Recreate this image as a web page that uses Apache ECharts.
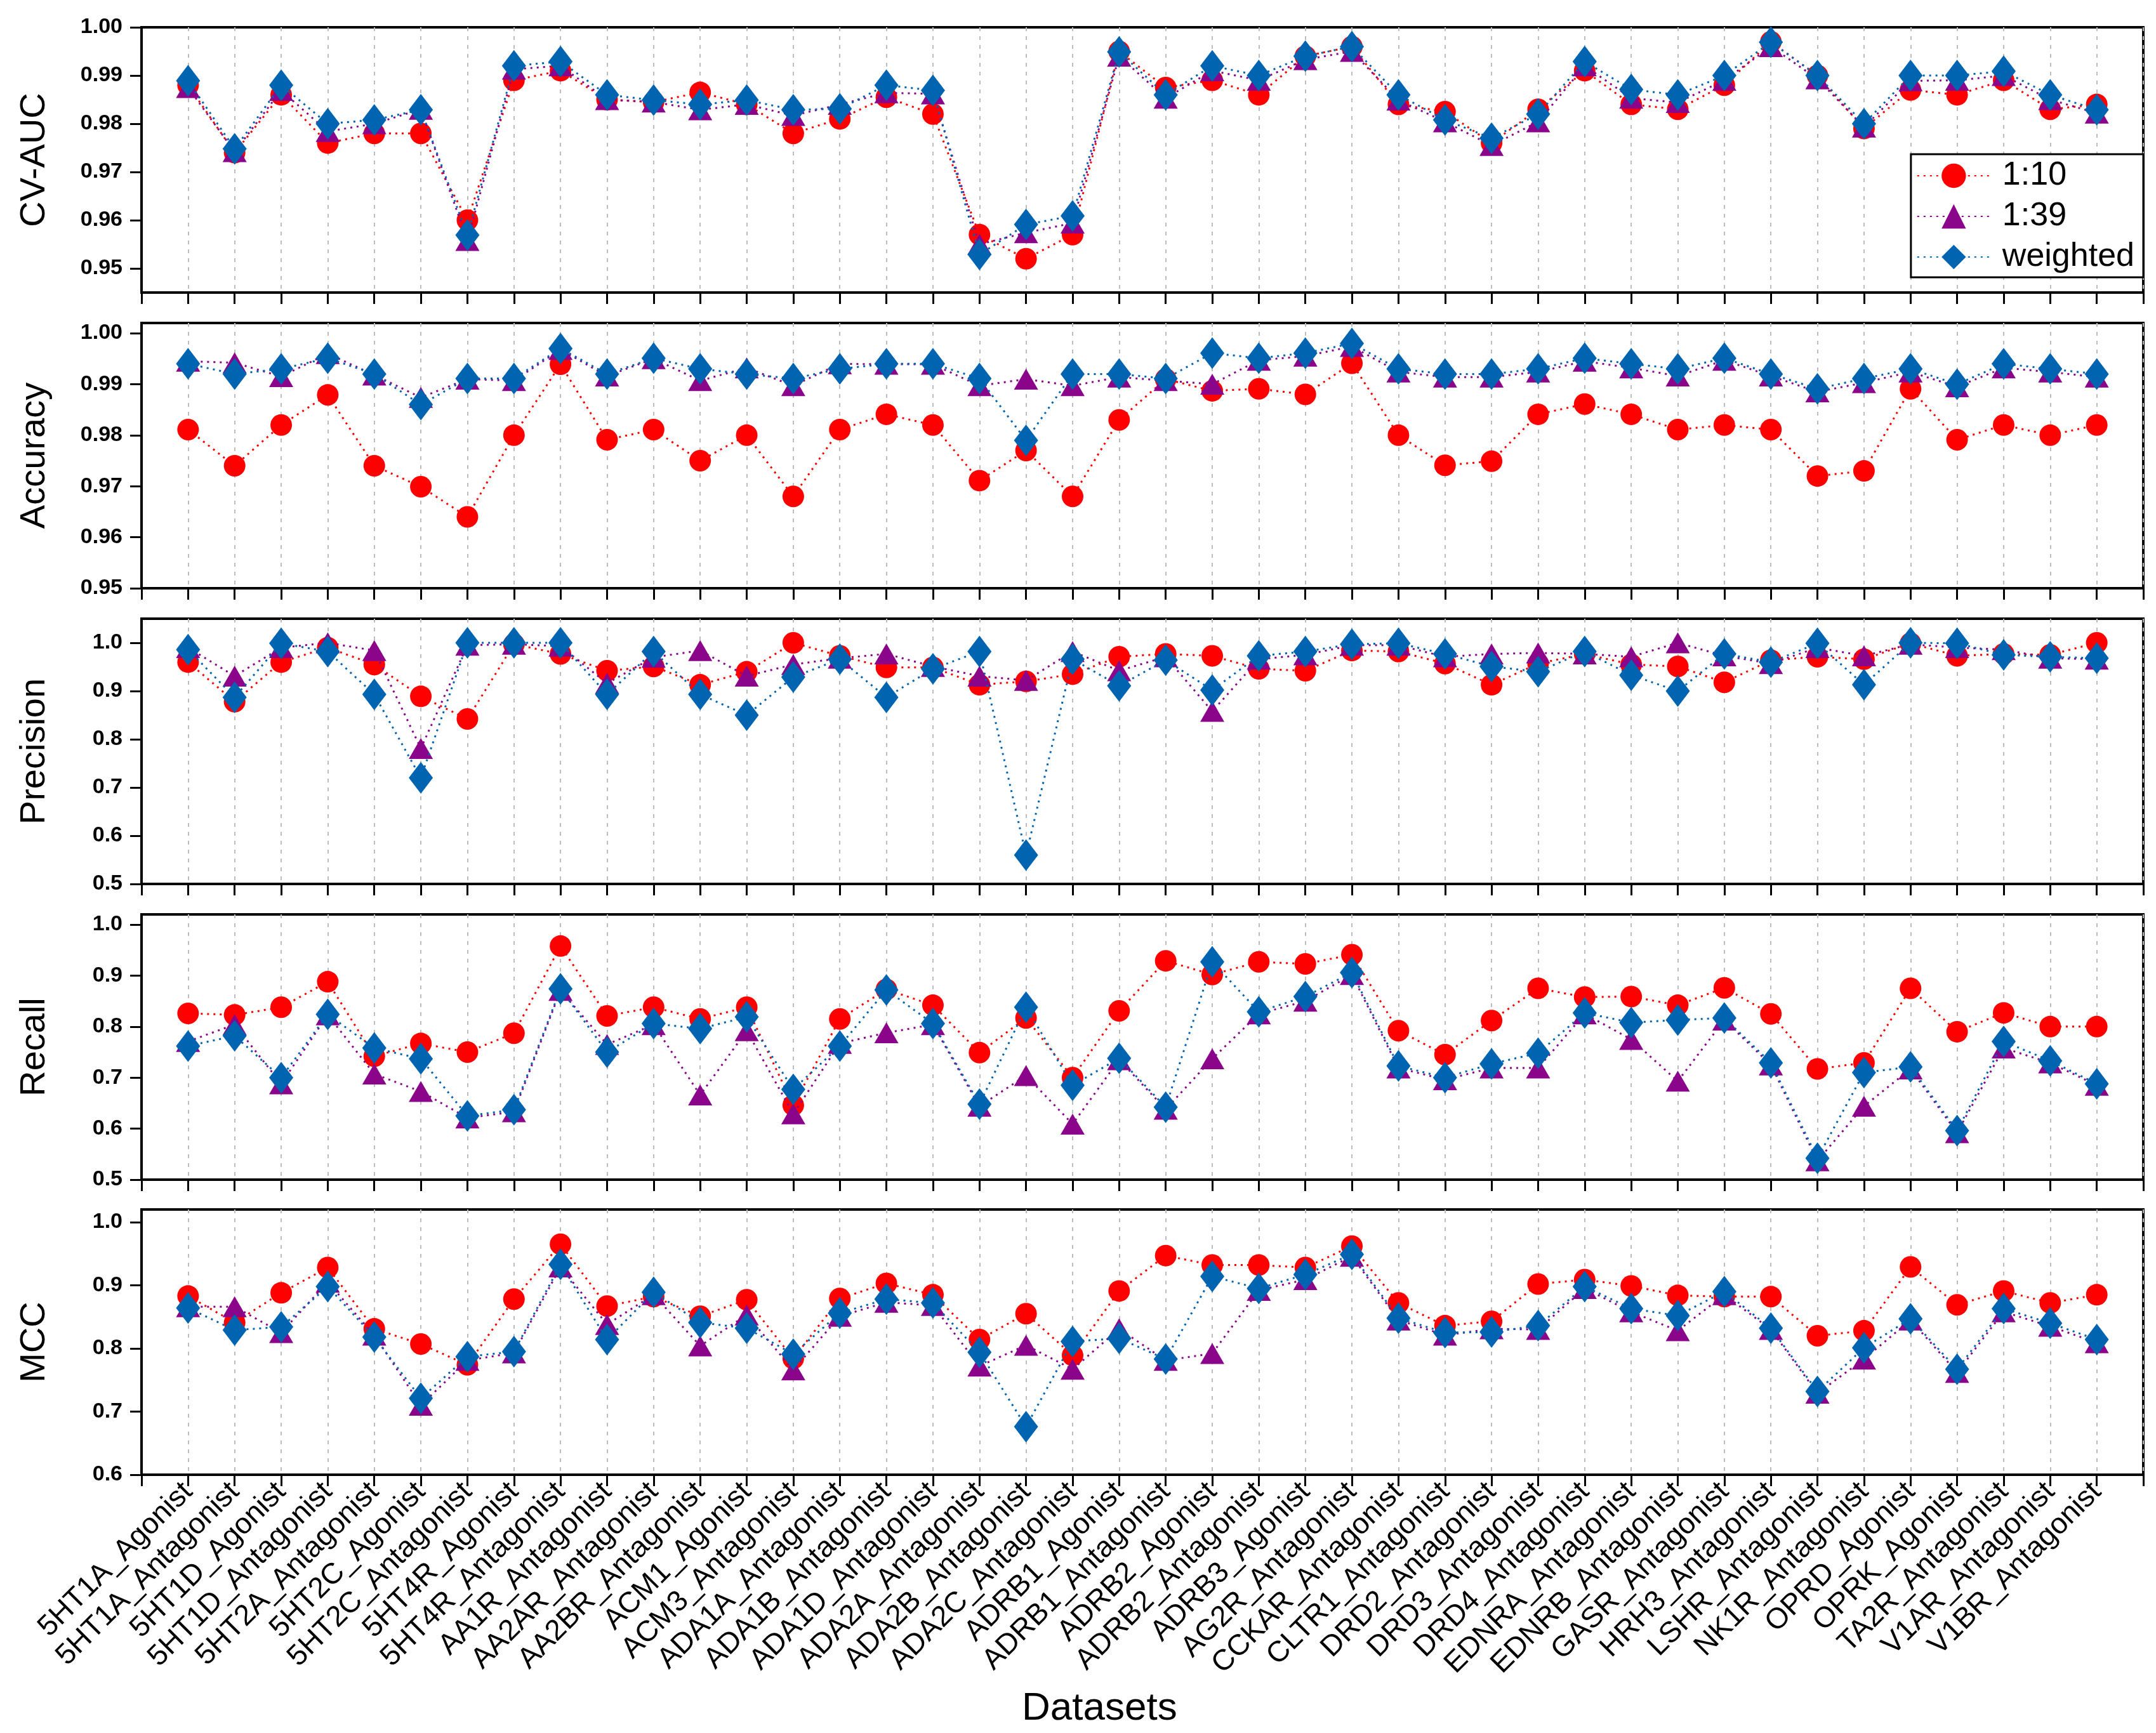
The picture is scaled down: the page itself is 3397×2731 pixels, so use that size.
<!DOCTYPE html>
<html>
<head>
<meta charset="utf-8">
<script src="https://cdn.jsdelivr.net/npm/echarts@6/dist/echarts.min.js"></script>
<style>
html,body{margin:0;padding:0;background:#fff;}
#chart{width:3397px;height:2731px;}
</style>
</head>
<body>
<div id="chart"></div>
<script>
var categories = ['5HT1A_Agonist','5HT1A_Antagonist','5HT1D_Agonist','5HT1D_Antagonist','5HT2A_Antagonist','5HT2C_Agonist','5HT2C_Antagonist','5HT4R_Agonist','5HT4R_Antagonist','AA1R_Antagonist','AA2AR_Antagonist','AA2BR_Antagonist','ACM1_Agonist','ACM3_Antagonist','ADA1A_Antagonist','ADA1B_Antagonist','ADA1D_Antagonist','ADA2A_Antagonist','ADA2B_Antagonist','ADA2C_Antagonist','ADRB1_Agonist','ADRB1_Antagonist','ADRB2_Agonist','ADRB2_Antagonist','ADRB3_Agonist','AG2R_Antagonist','CCKAR_Antagonist','CLTR1_Antagonist','DRD2_Antagonist','DRD3_Antagonist','DRD4_Antagonist','EDNRA_Antagonist','EDNRB_Antagonist','GASR_Antagonist','HRH3_Antagonist','LSHR_Antagonist','NK1R_Antagonist','OPRD_Agonist','OPRK_Agonist','TA2R_Antagonist','V1AR_Antagonist','V1BR_Antagonist'];

var seriesNames = ['1:10','1:39','weighted'];
var panelNames = ['CV-AUC','Accuracy','Precision','Recall','MCC'];
var xTitle = 'Datasets';

var cvauc_1_10 = [0.988,0.974,0.986,0.976,0.978,0.978,0.960,0.989,0.991,0.985,0.9845,0.9865,0.984,0.978,0.981,0.9855,0.982,0.957,0.952,0.957,0.995,0.9875,0.989,0.986,0.994,0.996,0.984,0.9825,0.976,0.983,0.991,0.984,0.983,0.988,0.997,0.990,0.979,0.987,0.986,0.989,0.983,0.984];
var cvauc_1_39 = [0.9875,0.9742,0.9869,0.9784,0.980,0.983,0.9558,0.9913,0.992,0.985,0.9845,0.9829,0.984,0.9817,0.984,0.9864,0.9862,0.955,0.9574,0.9594,0.994,0.9853,0.991,0.989,0.9933,0.995,0.9849,0.9804,0.9755,0.9804,0.992,0.9853,0.9844,0.989,0.996,0.9893,0.9793,0.9889,0.989,0.990,0.985,0.9822];
var cvauc_weighted = [0.9889,0.9748,0.988,0.980,0.9808,0.9829,0.9569,0.992,0.9929,0.986,0.9849,0.984,0.9849,0.9829,0.9831,0.988,0.9869,0.9529,0.9591,0.9609,0.9949,0.986,0.992,0.990,0.994,0.996,0.986,0.9808,0.977,0.982,0.9929,0.9871,0.986,0.990,0.9969,0.990,0.980,0.990,0.990,0.9909,0.986,0.9829];

var acc_1_10 = [0.9811,0.974,0.982,0.9879,0.974,0.9699,0.964,0.980,0.9939,0.9791,0.9811,0.975,0.980,0.968,0.9811,0.9841,0.982,0.9711,0.977,0.968,0.983,0.991,0.9887,0.9891,0.988,0.9941,0.980,0.9741,0.9749,0.9841,0.9861,0.9841,0.9811,0.982,0.9811,0.972,0.973,0.9891,0.9791,0.982,0.980,0.982];
var acc_1_39 = [0.9945,0.9942,0.9915,0.996,0.9918,0.9874,0.991,0.9907,0.9968,0.9916,0.995,0.9907,0.9932,0.9897,0.994,0.9939,0.9939,0.9897,0.991,0.9897,0.9914,0.9907,0.990,0.9947,0.9955,0.9974,0.9924,0.9914,0.9914,0.9924,0.9945,0.9932,0.9916,0.9947,0.9916,0.9885,0.9903,0.9924,0.9895,0.9932,0.9924,0.9914];
var acc_weighted = [0.994,0.992,0.993,0.9951,0.992,0.986,0.9911,0.9911,0.997,0.992,0.9951,0.993,0.992,0.9911,0.993,0.994,0.994,0.9911,0.979,0.992,0.992,0.9911,0.9961,0.9951,0.9961,0.998,0.993,0.992,0.992,0.993,0.9951,0.994,0.993,0.9951,0.992,0.9891,0.9911,0.993,0.990,0.994,0.993,0.992];

var prec_1_10 = [0.960,0.878,0.960,0.990,0.955,0.889,0.842,0.997,0.977,0.942,0.951,0.913,0.940,1.0,0.973,0.949,0.949,0.913,0.920,0.935,0.971,0.977,0.973,0.946,0.942,0.984,0.982,0.957,0.913,0.957,0.977,0.955,0.951,0.918,0.964,0.971,0.966,0.999,0.973,0.977,0.975,1.0];
var prec_1_39 = [0.990,0.931,0.990,1.0,0.984,0.781,0.995,0.997,0.993,0.916,0.970,0.984,0.931,0.955,0.968,0.977,0.951,0.931,0.922,0.982,0.942,0.971,0.858,0.966,0.975,0.995,0.995,0.971,0.977,0.979,0.977,0.971,1.0,0.973,0.957,0.990,0.973,0.997,0.990,0.986,0.968,0.966];
var prec_weighted = [0.986,0.887,0.999,0.982,0.893,0.720,1.0,1.0,1.0,0.893,0.982,0.893,0.850,0.929,0.966,0.887,0.946,0.982,0.560,0.966,0.911,0.964,0.902,0.973,0.982,0.997,0.999,0.977,0.951,0.940,0.982,0.933,0.900,0.977,0.960,0.999,0.913,1.0,0.999,0.975,0.971,0.968];

var rec_1_10 = [0.826,0.823,0.838,0.888,0.742,0.767,0.750,0.787,0.958,0.821,0.838,0.815,0.838,0.646,0.815,0.873,0.842,0.749,0.817,0.700,0.831,0.929,0.902,0.927,0.923,0.941,0.792,0.745,0.812,0.875,0.858,0.859,0.842,0.876,0.825,0.717,0.729,0.875,0.790,0.827,0.800,0.800];
var rec_1_39 = [0.771,0.804,0.688,0.823,0.707,0.673,0.621,0.633,0.871,0.765,0.804,0.666,0.792,0.629,0.767,0.788,0.804,0.644,0.704,0.609,0.735,0.638,0.737,0.825,0.850,0.902,0.719,0.696,0.719,0.719,0.825,0.775,0.693,0.813,0.725,0.537,0.644,0.717,0.592,0.758,0.729,0.685];
var rec_weighted = [0.762,0.782,0.700,0.824,0.758,0.737,0.625,0.637,0.874,0.750,0.806,0.796,0.819,0.677,0.762,0.872,0.806,0.648,0.838,0.685,0.738,0.642,0.927,0.829,0.859,0.906,0.723,0.700,0.727,0.748,0.827,0.808,0.813,0.817,0.729,0.542,0.710,0.721,0.596,0.771,0.733,0.688];

var mcc_1_10 = [0.883,0.841,0.888,0.928,0.831,0.807,0.774,0.878,0.965,0.867,0.882,0.851,0.877,0.784,0.879,0.903,0.885,0.814,0.855,0.789,0.891,0.947,0.932,0.932,0.928,0.962,0.872,0.836,0.843,0.902,0.909,0.899,0.884,0.882,0.882,0.820,0.828,0.929,0.869,0.891,0.872,0.885];
var mcc_1_39 = [0.866,0.866,0.825,0.905,0.821,0.710,0.781,0.793,0.929,0.838,0.885,0.804,0.853,0.766,0.851,0.873,0.868,0.772,0.805,0.767,0.831,0.781,0.792,0.892,0.909,0.946,0.845,0.821,0.831,0.830,0.895,0.858,0.828,0.885,0.830,0.729,0.783,0.845,0.762,0.858,0.835,0.809];
var mcc_weighted = [0.864,0.829,0.834,0.898,0.818,0.721,0.787,0.795,0.933,0.814,0.889,0.841,0.832,0.791,0.856,0.878,0.872,0.794,0.676,0.811,0.816,0.783,0.914,0.895,0.917,0.949,0.848,0.825,0.826,0.836,0.898,0.863,0.852,0.890,0.832,0.732,0.801,0.847,0.767,0.863,0.840,0.814];

var yTicks_cvauc = [0.95,0.96,0.97,0.98,0.99,1.00];
var yTicks_acc = [0.95,0.96,0.97,0.98,0.99,1.00];
var yTicks_prec = [0.5,0.6,0.7,0.8,0.9,1.0];
var yTicks_rec = [0.5,0.6,0.7,0.8,0.9,1.0];
var yTicks_mcc = [0.6,0.7,0.8,0.9,1.0];

var panelData = [
  [cvauc_1_10, cvauc_1_39, cvauc_weighted],
  [acc_1_10, acc_1_39, acc_weighted],
  [prec_1_10, prec_1_39, prec_weighted],
  [rec_1_10, rec_1_39, rec_weighted],
  [mcc_1_10, mcc_1_39, mcc_weighted]
];
var panelTicks = [yTicks_cvauc, yTicks_acc, yTicks_prec, yTicks_rec, yTicks_mcc];
var panelRange = [[0.945,1.0],[0.95,1.002],[0.5,1.05],[0.5,1.02],[0.6,1.02]];
var panelDecimals = [2,2,1,1,1];

var FONT = 'Arial, "Liberation Sans", sans-serif';
var gridTops = [43, 509, 975, 1441, 1906];
var gridH = 418;
var colors = ['#FF0000', '#8B058B', '#0064B0'];
var symbols = ['circle', 'triangle', 'diamond'];
var symbolSizes = [34, [38, 33], [38, 50]];

var xCats = [''].concat(categories).concat(['']);
function pad(arr){ return [null].concat(arr).concat([null]); }

var grids = [], xAxes = [], yAxes = [], series = [];
for (var p = 0; p < 5; p++) {
  grids.push({left: 223, right: 20, top: gridTops[p], height: gridH, containLabel: false, outerBoundsMode: 'none',
              show: true, borderColor: '#000', borderWidth: 4, backgroundColor: 'transparent'});
  var last = (p === 4);
  xAxes.push({
    type: 'category', gridIndex: p, data: xCats, boundaryGap: false,
    axisLine: {show: true, lineStyle: {color: '#000', width: 4}},
    axisTick: {show: true, interval: 0, inside: false, length: 18, lineStyle: {color: '#000', width: 3}},
    splitLine: {show: true, interval: 0, lineStyle: {color: '#BDBDBD', width: 2, type: [6, 8]}},
    axisLabel: {show: last, interval: 0, rotate: 45, margin: 20, fontSize: 46, color: '#000', fontFamily: FONT}
  });
  (function(dec){
    yAxes.push({
      type: 'value', gridIndex: p, min: panelRange[p][0], max: panelRange[p][1],
      axisLine: {show: true, lineStyle: {color: '#000', width: 4}},
      axisTick: {show: true, inside: false, length: 18, lineStyle: {color: '#000', width: 3}, customValues: panelTicks[p]},
      axisLabel: {show: true, margin: 30, fontSize: 34, fontWeight: 'bold', color: '#000', fontFamily: FONT,
                  customValues: panelTicks[p], formatter: function(v){ return Number(v).toFixed(dec); }},
      splitLine: {show: false},
      name: panelNames[p], nameLocation: 'middle', nameGap: 140, nameRotate: 90,
      nameTextStyle: {fontSize: 56, color: '#000', fontFamily: FONT}
    });
  })(panelDecimals[p]);
  for (var s = 0; s < 3; s++) {
    series.push({
      name: seriesNames[s], type: 'line', xAxisIndex: p, yAxisIndex: p,
      data: pad(panelData[p][s]),
      symbol: symbols[s], symbolSize: symbolSizes[s], showAllSymbol: true,
      itemStyle: {color: colors[s], opacity: 1},
      lineStyle: {color: colors[s], width: 3, type: [3, 7]},
      z: 2 + s, animation: false
    });
  }
}

var chart = echarts.init(document.getElementById('chart'), null, {renderer: 'canvas'});
chart.setOption({
  backgroundColor: '#fff',
  animation: false,
  title: {text: xTitle, left: 1610, top: 2662, padding: 0,
          textStyle: {fontSize: 62, fontWeight: 'normal', color: '#000', fontFamily: FONT}},
  grid: grids,
  xAxis: xAxes,
  yAxis: yAxes,
  legend: {
    data: seriesNames, orient: 'vertical', right: 20, top: 243,
    padding: [8, 14, 6, 9], itemWidth: 115, itemHeight: 48, itemGap: 12,
    borderColor: '#000', borderWidth: 3, backgroundColor: '#fff',
    textStyle: {fontSize: 52, color: '#000', fontFamily: FONT, padding: [0, 0, 0, 14]}
  },
  series: series
});
</script>
</body>
</html>
